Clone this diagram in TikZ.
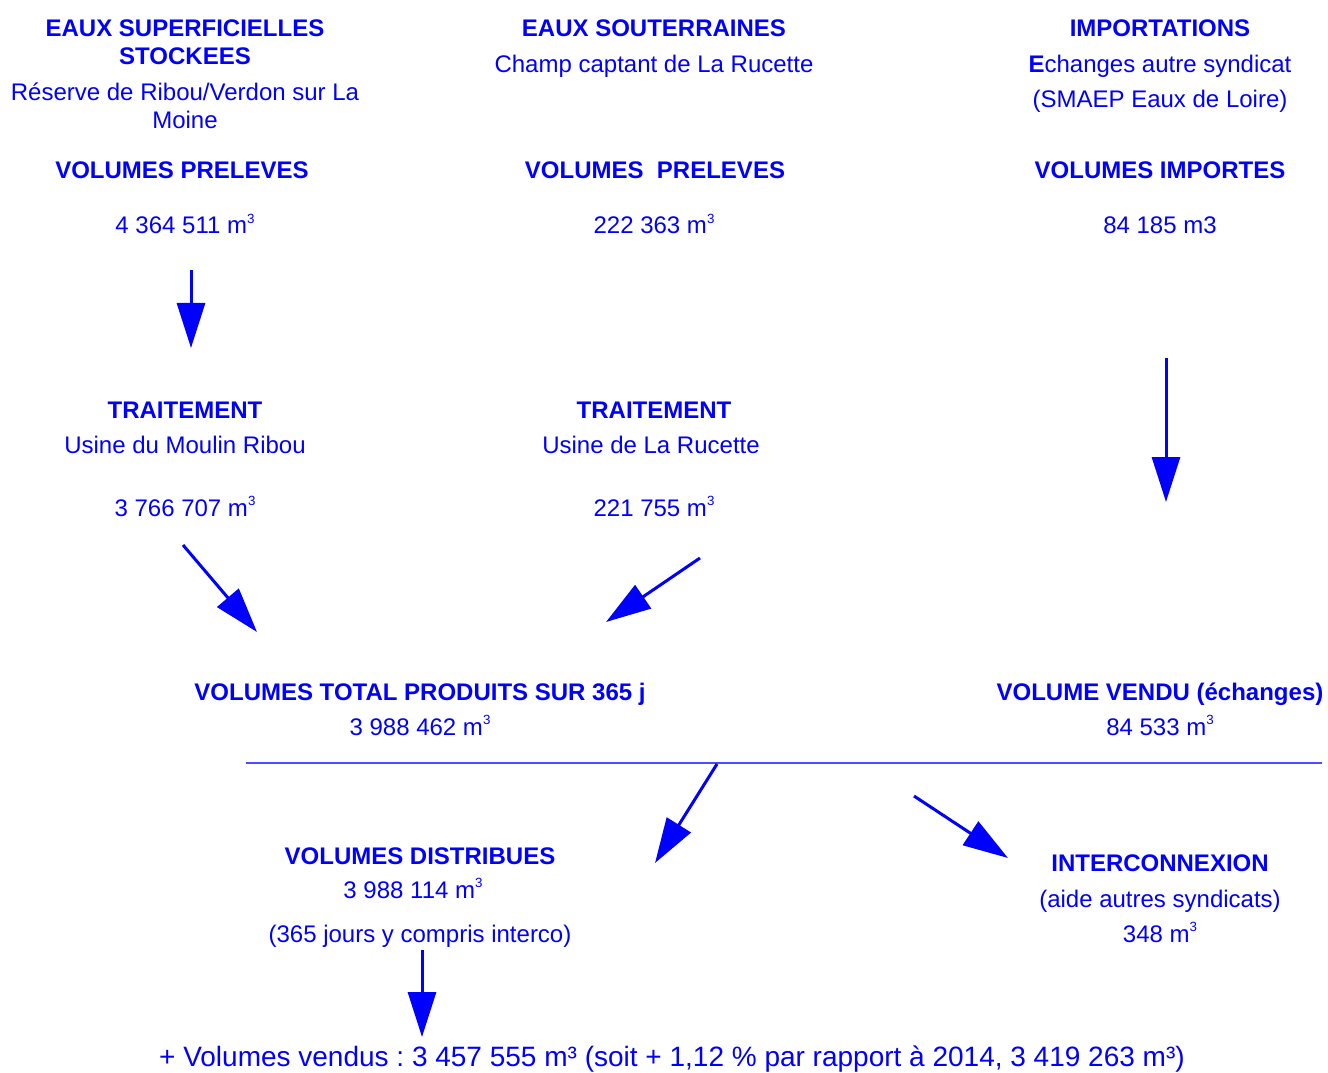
\documentclass[tikz,border=0pt]{standalone}
\usepackage{fontspec}
\setmainfont{Liberation Sans}
\usepackage{tikz}
\usetikzlibrary{positioning,arrows.meta}

\newcommand{\mtrois}{m\raisebox{0.42em}{\fontsize{10}{10}\selectfont 3}}
\frenchspacing

\begin{document}
\begin{tikzpicture}[x=0.75pt, y=-0.75pt,
    >={Triangle[length=33.75pt, width=21pt]},
    hd/.style={text=blue, font=\fontsize{18}{21}\selectfont\bfseries, anchor=base, inner sep=0pt},
    txt/.style={text=blue, font=\fontsize{18}{21}\selectfont, anchor=base, inner sep=0pt},
    big/.style={text=blue, font=\fontsize{21}{24}\selectfont, anchor=base, inner sep=0pt},
    arr/.style={->, blue, line width=2.25pt},
    rule/.style={blue!70, line width=0.9pt},
]
\useasboundingbox (0,0) rectangle (1328,1073);

% --- Eaux superficielles ---
\node[hd] (sup_title) at (185,37) {EAUX SUPERFICIELLES};
\node[hd] (sup_title2) at (185,65) {STOCKEES};
\node[txt] (sup_res) at (185,101) {Réserve de Ribou/Verdon sur La};
\node[txt] (sup_res2) at (185,129) {Moine};
\node[hd] (sup_vol) at (182,179) {VOLUMES PRELEVES};
\node[txt] (sup_val) at (185,234) {4 364 511 \mtrois};
\node[hd] (sup_trt) at (185,418) {TRAITEMENT};
\node[txt] (sup_usine) at (185,453) {Usine du Moulin Ribou};
\node[txt] (sup_out) at (185,516) {3 766 707 \mtrois};

% --- Eaux souterraines ---
\node[hd] (sout_title) at (654,37) {EAUX SOUTERRAINES};
\node[txt] (sout_champ) at (654,73) {Champ captant de La Rucette};
\node[hd] (sout_vol) at (655,179) {VOLUMES~ PRELEVES};
\node[txt] (sout_val) at (654,234) {222 363 \mtrois};
\node[hd] (sout_trt) at (654,418) {TRAITEMENT};
\node[txt] (sout_usine) at (651,453) {Usine de La Rucette};
\node[txt] (sout_out) at (654,516) {221 755 \mtrois};

% --- Importations ---
\node[hd] (imp_title) at (1160,37) {IMPORTATIONS};
\node[txt] (imp_ech) at (1160,73) {{\bfseries E}changes autre syndicat};
\node[txt] (imp_smaep) at (1160,108) {(SMAEP Eaux de Loire)};
\node[hd] (imp_vol) at (1160,179) {VOLUMES IMPORTES};
\node[txt] (imp_val) at (1160,234) {84 185 m3};

% --- Totaux ---
\node[hd] (total_title) at (420,700) {VOLUMES TOTAL PRODUITS SUR 365 j};
\node[txt] (total_val) at (420,735) {3 988 462 \mtrois};
\node[hd] (vendu_title) at (1160,700) {VOLUME VENDU (échanges)};
\node[txt] (vendu_val) at (1160,735) {84 533 \mtrois};

% --- Distribution ---
\node[hd] (dist_title) at (420,864) {VOLUMES DISTRIBUES};
\node[txt] (dist_val) at (413,898) {3 988 114 \mtrois};
\node[txt] (dist_note) at (420,942) {(365 jours y compris interco)};
\node[hd] (ic_title) at (1160,871) {INTERCONNEXION};
\node[txt] (ic_note) at (1160,907) {(aide autres syndicats)};
\node[txt] (ic_val) at (1160,942) {348 \mtrois};

\node[big] (sales) at (672,1066) {+ Volumes vendus : 3 457 555 m³ (soit + 1,12 \% par rapport à 2014, 3 419 263 m³)};

% --- Arrow ends ---
\coordinate (a1s) at (191,270);  \coordinate (a1e) at (191,348);
\coordinate (a2s) at (183,545);  \coordinate (a2e) at (257,632);
\coordinate (a3s) at (700,558);  \coordinate (a3e) at (606,622);
\coordinate (a4s) at (1166,358); \coordinate (a4e) at (1166,502);
\coordinate (a5s) at (717,764);  \coordinate (a5e) at (655,863);
\coordinate (a6s) at (914,796);  \coordinate (a6e) at (1008,858);
\coordinate (a7s) at (422,950);  \coordinate (a7e) at (422,1037);
\coordinate (rl) at (246,763);   \coordinate (rr) at (1322,763);

% --- Arrows ---
\draw[arr] (a1s) -- (a1e);
\draw[arr] (a2s) -- (a2e);
\draw[arr] (a3s) -- (a3e);
\draw[arr] (a4s) -- (a4e);
\draw[rule] (rl) -- (rr);
\draw[arr] (a5s) -- (a5e);
\draw[arr] (a6s) -- (a6e);
\draw[arr] (a7s) -- (a7e);

\end{tikzpicture}
\end{document}
